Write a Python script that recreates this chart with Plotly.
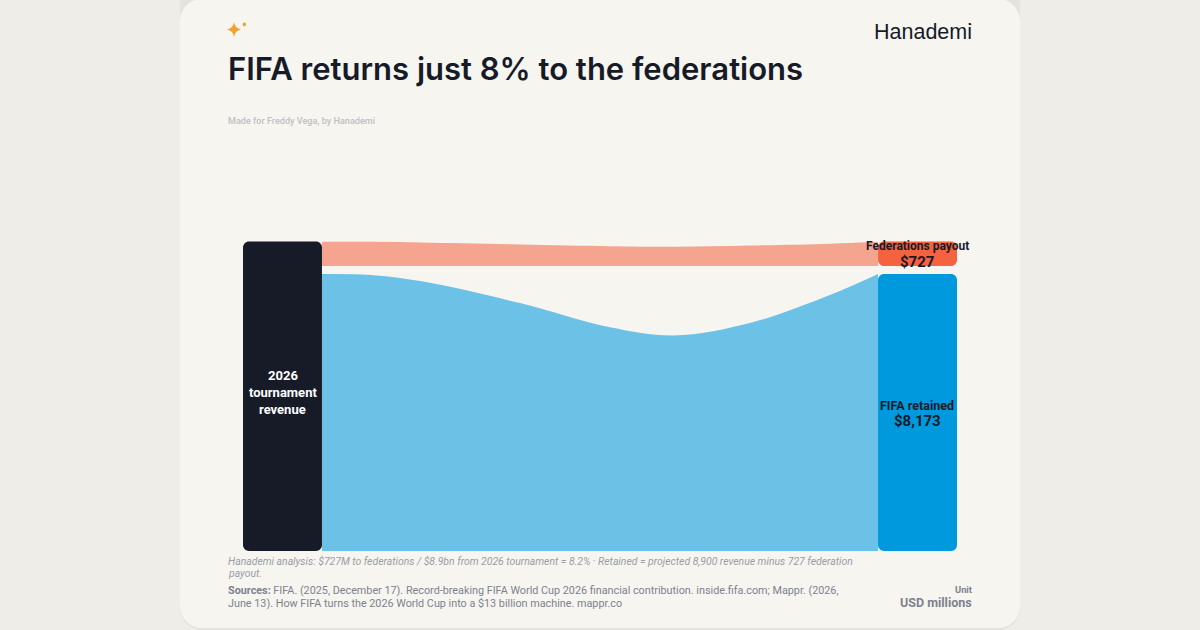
import plotly.graph_objects as go

# ---- data (USD millions) ----
revenue_total = 8900
federations = 727
retained = 8173
node_gap = 236          # visual gap between the two right-hand nodes, in value units

flow_x = [11.06, 17.8, 24.8, 38.8, 51.4, 60.4, 71, 82.2, 88.94]
retained_top = [8173, 8144, 7965, 7316, 6600, 6357, 6726, 7552, 8173]
payout_top = [9136, 9130, 9101, 9045, 8995, 8977, 9012, 9068, 9124]
payout_bottom = [8409] * len(flow_x)

node_w = 11.06
W, H = 1200, 630
FONT = "Roboto"
TITLE_FONT = "Inter"
DARK = "#171B27"
PLOT_L, PLOT_R, PLOT_T, PLOT_B = 243, 957, 241.4, 551
y_top = retained + node_gap + federations


def fx(p):
    return p / W


def fy(p):
    return 1 - p / H


def rounded(x0, x1, y0, y1, r):
    """Rounded rectangle as an SVG path in pixel space -> paper coords."""
    k = r * 0.45
    P = lambda a, b: f"{fx(a):.5f},{fy(b):.5f}"
    return (f"M{P(x0 + r, y0)} L{P(x1 - r, y0)} C{P(x1 - k, y0)} {P(x1, y0 + k)} {P(x1, y0 + r)} "
            f"L{P(x1, y1 - r)} C{P(x1, y1 - k)} {P(x1 - k, y1)} {P(x1 - r, y1)} "
            f"L{P(x0 + r, y1)} C{P(x0 + k, y1)} {P(x0, y1 - k)} {P(x0, y1 - r)} "
            f"L{P(x0, y0 + r)} C{P(x0, y0 + k)} {P(x0 + k, y0)} {P(x0 + r, y0)} Z")


def node(x0, x1, v0, v1, color, r=6):
    k_x = (PLOT_R - PLOT_L) / 100
    k_y = (PLOT_B - PLOT_T) / y_top
    return dict(type="path", xref="paper", yref="paper", layer="above", line_width=0, fillcolor=color,
                path=rounded(PLOT_L + x0 * k_x, PLOT_L + x1 * k_x, PLOT_B - v1 * k_y, PLOT_B - v0 * k_y, r))


def text(x, y, s, size, color, anchor="left", weight=400, family=FONT):
    return dict(x=fx(x), y=fy(y), xref="paper", yref="paper", xanchor=anchor, yanchor="middle", align=anchor,
                text=s, showarrow=False, borderpad=0,
                font=dict(family=family, size=size, color=color, weight=weight))


fig = go.Figure()
fig.add_trace(go.Scatter(x=flow_x, y=retained_top, mode="lines", line=dict(width=0, shape="spline", smoothing=1),
                         fill="tozeroy", fillcolor="#6CC1E6", hoverinfo="skip", showlegend=False))
fig.add_trace(go.Scatter(x=flow_x, y=payout_bottom, mode="lines", line=dict(width=0),
                         hoverinfo="skip", showlegend=False))
fig.add_trace(go.Scatter(x=flow_x, y=payout_top, mode="lines", line=dict(width=0, shape="spline", smoothing=1),
                         fill="tonexty", fillcolor="#F5A58F", hoverinfo="skip", showlegend=False))

star = (f"M{fx(234):.5f},{fy(22):.5f} Q{fx(234.8):.5f},{fy(28.2):.5f} {fx(241):.5f},{fy(29.5):.5f} "
        f"Q{fx(234.8):.5f},{fy(30.8):.5f} {fx(234):.5f},{fy(37):.5f} "
        f"Q{fx(233.2):.5f},{fy(30.8):.5f} {fx(227):.5f},{fy(29.5):.5f} "
        f"Q{fx(233.2):.5f},{fy(28.2):.5f} {fx(234):.5f},{fy(22):.5f} Z")

shapes = [
    dict(type="path", xref="paper", yref="paper", layer="below", line_width=0, fillcolor="#E4E3DE",
         path=rounded(180, 1020, -30, 630, 22)),
    dict(type="path", xref="paper", yref="paper", layer="below", line_width=0, fillcolor="#F6F5F0",
         path=rounded(180, 1020, -1, 628, 22)),
    node(0, node_w, 0, y_top, DARK),
    node(100 - node_w, 100, 0, retained, "#0099DD"),
    node(100 - node_w, 100, retained + node_gap, y_top, "#F4623F"),
    dict(type="path", xref="paper", yref="paper", line_width=0, fillcolor="#F2A233", path=star),
    dict(type="circle", xref="paper", yref="paper", line_width=0, fillcolor="#F2A233",
         x0=fx(242.6), x1=fx(246.2), y0=fy(22.6), y1=fy(26.2)),
    dict(type="circle", xref="paper", yref="paper", line_width=0, fillcolor="#F4623F",
         x0=fx(969.6), x1=fx(971.6), y0=fy(23.6), y1=fy(25.6)),
]

annotations = [
    text(227, 68, "FIFA returns just 8% to the federations", 31, DARK, weight=600, family=TITLE_FONT),
    text(226.5, 121, "Made for Freddy Vega, by Hanademi", 9.1, "#BFC0C4", weight=500),
    text(973, 32, "Hanademi", 21.5, DARK, anchor="right", family="Liberation Sans"),
    text(282.5, 375.5, "2026", 13, "#FFFFFF", anchor="center", weight=700),
    text(282.5, 392.5, "tournament", 13, "#FFFFFF", anchor="center", weight=700),
    text(282.5, 409, "revenue", 13, "#FFFFFF", anchor="center", weight=700),
    text(917.5, 246, "Federations payout", 12, DARK, anchor="center", weight=700),
    text(917.5, 261.5, f"${federations:,}", 15, DARK, anchor="center", weight=700),
    text(917.5, 405, "FIFA retained", 12.5, DARK, anchor="center", weight=700),
    text(917.5, 420.5, f"${retained:,}", 15, DARK, anchor="center", weight=700),
    text(226.5, 561, "<i>Hanademi analysis: $727M to federations / $8.9bn from 2026 tournament = 8.2% · "
                     "Retained = projected 8,900 revenue minus 727 federation</i>", 10.4, "#9A9DA5"),
    text(226.5, 573.5, "<i>payout.</i>", 10.4, "#9A9DA5"),
    text(226.5, 590, "<b>Sources:</b> FIFA. (2025, December 17). Record-breaking FIFA World Cup 2026 financial "
                     "contribution. inside.fifa.com; Mappr. (2026,", 10.8, "#7D828E"),
    text(226.5, 603, "June 13). How FIFA turns the 2026 World Cup "
                     "into a $13 billion machine. mappr.co", 10.8, "#7D828E"),
    text(972.5, 589.5, "Unit", 9.3, "#7D828E", anchor="right", weight=700),
    text(972.5, 602, "USD millions", 12.5, "#7D828E", anchor="right", weight=700),
]

fig.update_layout(
    width=W, height=H, margin=dict(l=0, r=0, t=0, b=0), autosize=False,
    paper_bgcolor="#EEEDE8", plot_bgcolor="rgba(0,0,0,0)", showlegend=False,
    xaxis=dict(visible=False, range=[0, 100], domain=[fx(PLOT_L), fx(PLOT_R)], fixedrange=True),
    yaxis=dict(visible=False, range=[0, y_top], domain=[fy(PLOT_B), fy(PLOT_T)], fixedrange=True),
    shapes=shapes, annotations=annotations,
)
fig.write_html("out.html", config=dict(displayModeBar=False),
               post_script="document.body.style.margin='0';document.body.style.overflow='hidden';")
